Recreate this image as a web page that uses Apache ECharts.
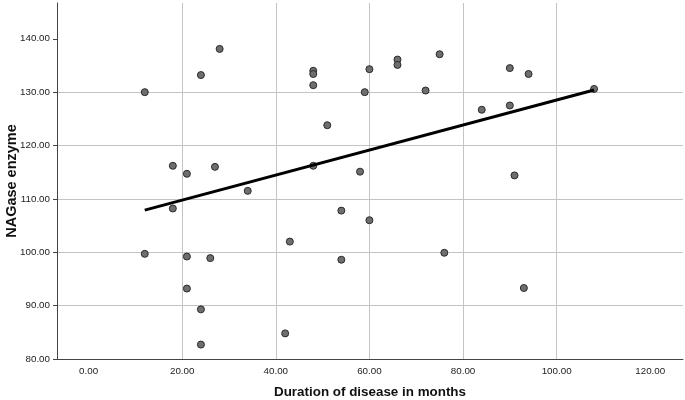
<!DOCTYPE html>
<html>
<head>
<meta charset="utf-8">
<script src="https://cdn.jsdelivr.net/npm/echarts@6/dist/echarts.min.js"></script>
<style>html,body{margin:0;padding:0;background:#fff}#c{width:685px;height:400px}</style>
</head>
<body>
<div id="c"></div>
<script>
const durationMonths = [12,12,18,18,21,21,21,24,28,27,24,24,26,34,42,43,48,48,48,48,51,54,54,60,59,66,66,72,75,58,91,84,90,90,94,108,60,76,93];
const nagaseValues = [130,99.7,116.2,108.2,114.7,99.2,93.2,133.2,138.1,116,89.3,82.7,98.9,111.5,84.8,102,134,133.4,131.3,116.2,123.8,107.8,98.6,134.3,130,136.1,135.1,130.3,137.1,115.1,114.4,126.7,127.5,134.5,133.4,130.6,106,99.9,93.3];
const fitLineX = [12,108];
const fitLineY = [107.9,130.4];
const xTickValues = [0,20,40,60,80,100,120];
const yTickValues = [80,90,100,110,120,130,140];

const points = durationMonths.map((x,i)=>[x,nagaseValues[i]]);
const fit = fitLineX.map((x,i)=>[x,fitLineY[i]]);

const chart = echarts.init(document.getElementById('c'), null, {renderer:'canvas'});
chart.setOption({
  animation:false,
  backgroundColor:'#fff',
  grid:{left:57,top:3,right:2,bottom:41,containLabel:false,outerBoundsMode:'none'},
  xAxis:{
    type:'value', min:-6.75, max:127,
    name:'Duration of disease in months', nameLocation:'middle', nameGap:27, nameMoveOverlap:false,
    nameTextStyle:{fontFamily:'Liberation Sans',fontWeight:'bold',fontSize:13.4,color:'#111'},
    axisLine:{show:true,onZero:false,lineStyle:{color:'#444',width:1}},
    axisTick:{show:false,customValues:xTickValues},
    axisLabel:{customValues:xTickValues,formatter:v=>v.toFixed(2),fontFamily:'Liberation Sans',fontSize:9.8,color:'#222',margin:7},
    splitLine:{show:true,showMinLine:false,showMaxLine:false,lineStyle:{color:'#c4c4c4',width:1}}
  },
  yAxis:{
    type:'value', min:80, max:146.7,
    name:'NAGase enzyme', nameLocation:'middle', nameGap:38, nameRotate:90, nameMoveOverlap:false,
    nameTextStyle:{fontFamily:'Liberation Sans',fontWeight:'bold',fontSize:14.5,color:'#111'},
    axisLine:{show:true,onZero:false,lineStyle:{color:'#444',width:1}},
    axisTick:{show:true,length:4,customValues:yTickValues,lineStyle:{color:'#444',width:1}},
    axisLabel:{customValues:yTickValues,formatter:v=>v.toFixed(2),fontFamily:'Liberation Sans',fontSize:9.8,color:'#222',margin:7},
    splitLine:{show:true,showMinLine:false,showMaxLine:false,lineStyle:{color:'#c4c4c4',width:1}}
  },
  series:[
    {type:'scatter',data:points,symbolSize:7,itemStyle:{color:'#6e6e6e',borderColor:'#2a2a2a',borderWidth:1,opacity:1},z:3},
    {type:'line',data:fit,symbol:'none',lineStyle:{color:'#000',width:3},z:4}
  ]
});
</script>
</body>
</html>
